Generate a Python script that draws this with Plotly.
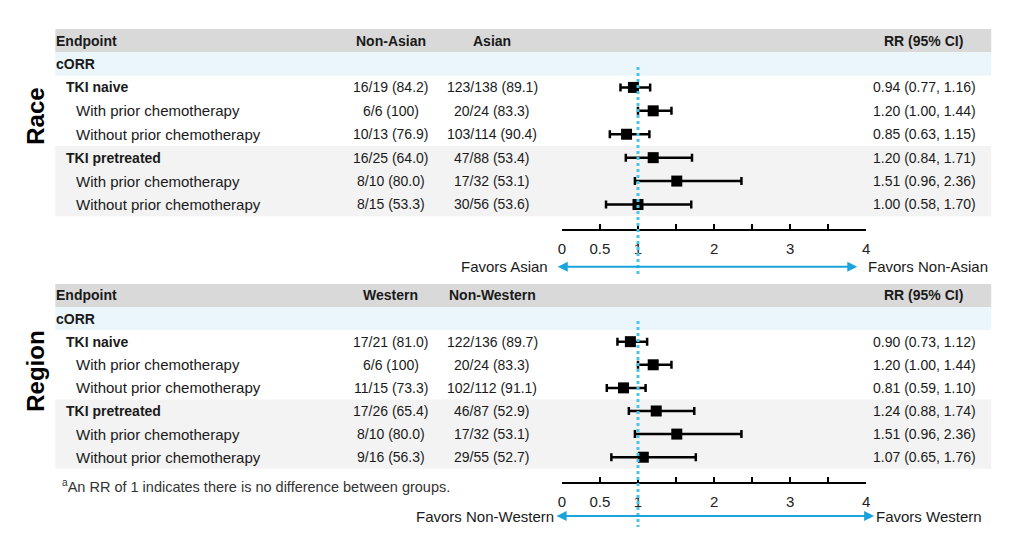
import plotly.graph_objects as go

W, H = 1024, 543
FONT = "Liberation Sans, Arial, sans-serif"

# table rows (same for both panels)
row_labels = ["TKI naive", "With prior chemotherapy", "Without prior chemotherapy",
              "TKI pretreated", "With prior chemotherapy", "Without prior chemotherapy"]
row_bold = [True, False, False, True, False, False]
rows = [0, 1, 2, 3, 4, 5]

# Race panel
race_groups = ["Non-Asian", "Asian"]
race_col1 = ["16/19 (84.2)", "6/6 (100)", "10/13 (76.9)", "16/25 (64.0)", "8/10 (80.0)", "8/15 (53.3)"]
race_col2 = ["123/138 (89.1)", "20/24 (83.3)", "103/114 (90.4)", "47/88 (53.4)", "17/32 (53.1)", "30/56 (53.6)"]
race_rr = [0.94, 1.20, 0.85, 1.20, 1.51, 1.00]
race_lo = [0.77, 1.00, 0.63, 0.84, 0.96, 0.58]
race_hi = [1.16, 1.44, 1.15, 1.71, 2.36, 1.70]

# Region panel
region_groups = ["Western", "Non-Western"]
region_col1 = ["17/21 (81.0)", "6/6 (100)", "11/15 (73.3)", "17/26 (65.4)", "8/10 (80.0)", "9/16 (56.3)"]
region_col2 = ["122/136 (89.7)", "20/24 (83.3)", "102/112 (91.1)", "46/87 (52.9)", "17/32 (53.1)", "29/55 (52.7)"]
region_rr = [0.90, 1.20, 0.81, 1.24, 1.51, 1.07]
region_lo = [0.73, 1.00, 0.59, 0.88, 0.96, 0.65]
region_hi = [1.12, 1.44, 1.10, 1.74, 2.36, 1.76]

x_ticks = [0, 0.5, 1, 2, 3, 4]
x_minor = [1.5, 2.5, 3.5]


def px(x):
    return x / W


def py(y):
    return 1 - y / H


panels = [
    dict(name="Race", groups=race_groups, col1=race_col1, col2=race_col2,
         rr=race_rr, lo=race_lo, hi=race_hi,
         left="Favors Asian", right="Favors Non-Asian",
         top=28.9, axis=229.3, label_y=116, arrow_y=266.7, arrow_l=559, arrow_r=860,
         left_end=548, right_start=871, dot=(67, 276)),
    dict(name="Region", groups=region_groups, col1=region_col1, col2=region_col2,
         rr=region_rr, lo=region_lo, hi=region_hi,
         left="Favors Non-Western", right="Favors Western",
         top=283.9, axis=481.7, label_y=371, arrow_y=516, arrow_l=558, arrow_r=877,
         left_end=554, right_start=879, dot=(321, 527)),
]

fig = go.Figure()
shapes = []
annots = []
layout_axes = {}

for i, p in enumerate(panels):
    sfx = "" if i == 0 else str(i + 1)
    xa, ya = "x" + sfx, "y" + sfx

    err_plus = [h - r for r, h in zip(p["rr"], p["hi"])]
    err_minus = [r - l for r, l in zip(p["rr"], p["lo"])]
    fig.add_trace(go.Scatter(
        x=p["rr"], y=rows, xaxis=xa, yaxis=ya, mode="markers",
        marker=dict(symbol="square", size=11, color="black"),
        error_x=dict(type="data", symmetric=False, array=err_plus, arrayminus=err_minus,
                     color="black", thickness=2.5, width=4),
        cliponaxis=False, showlegend=False, hoverinfo="skip"))

    layout_axes["xaxis" + sfx] = dict(
        domain=[px(562.3), px(869)], range=[0, 4], anchor=ya,
        showline=True, linecolor="black", linewidth=2, showgrid=False, zeroline=False,
        ticks="inside", ticklen=5, tickwidth=2, tickcolor="black",
        tickvals=x_ticks, ticktext=[str(t) for t in x_ticks],
        minor=dict(tickvals=x_minor, ticks="inside", ticklen=5, tickwidth=2, tickcolor="black"),
        tickfont=dict(family=FONT, size=15, color="#222"), ticklabelstandoff=5,
        fixedrange=True)
    layout_axes["yaxis" + sfx] = dict(
        domain=[py(p["axis"]), py(p["top"])], range=[6.06, -2.5], anchor=xa,
        visible=False, fixedrange=True)

    # bands
    band = dict(type="rect", xref="paper", yref=ya, x0=px(51.7), x1=px(995),
                line_width=0, layer="below")
    shapes.append(dict(band, y0=-2.5, y1=-1.5, fillcolor="#d9d9d9"))
    shapes.append(dict(band, y0=-1.5, y1=-0.5, fillcolor="#eaf6fa"))
    shapes.append(dict(band, y0=2.5, y1=5.5, fillcolor="#f3f3f3"))

    # reference line at RR = 1
    shapes.append(dict(type="line", xref=xa, yref="paper", x0=1, x1=1,
                       y0=py(p["dot"][0]), y1=py(p["dot"][1]),
                       line=dict(color="#4cc4e0", width=3, dash="dot"), layer="above"))

    def txt(x, y, s, anchor="left", bold=False, size=15, yref=ya, **kw):
        annots.append(dict(x=x, y=y, xref="paper", yref=yref, text=("<b>%s</b>" % s) if bold else s,
                           showarrow=False, xanchor=anchor, yanchor="middle",
                           font=dict(family=FONT, size=size, color="#1a1a1a"), **kw))

    # header row
    txt(px(50.7), -2, "Endpoint", bold=True, size=14)
    txt(px(390), -2, p["groups"][0], anchor="center", bold=True, size=14)
    txt(px(492), -2, p["groups"][1], anchor="center", bold=True, size=14)
    txt(px(927), -2, "RR (95% CI)", anchor="center", bold=True, size=14)
    txt(px(50.7), -1, "cORR", bold=True, size=14)

    for r, lab, b, c1, c2, rr, lo, hi in zip(rows, row_labels, row_bold, p["col1"], p["col2"],
                                             p["rr"], p["lo"], p["hi"]):
        if b:
            txt(px(60.7), r, lab, bold=True, size=14)
        else:
            txt(px(70.7), r, lab, size=15)
        txt(px(390), r, c1, anchor="center", size=14)
        txt(px(492), r, c2, anchor="center", size=14)
        txt(px(982), r, "%.2f (%.2f, %.2f)" % (rr, lo, hi), anchor="right", size=14)

    # side label
    annots.append(dict(x=px(31), y=py(p["label_y"]), xref="paper", yref="paper", text="<b>%s</b>" % p["name"],
                       showarrow=False, textangle=-90, xanchor="center", yanchor="middle",
                       font=dict(family=FONT, size=24, color="black")))

    # favors arrow
    annots.append(dict(x=px(p["arrow_r"]), y=py(p["arrow_y"]), ax=-(p["arrow_r"] - p["arrow_l"]), ay=0,
                       xref="paper", yref="paper", axref="pixel", ayref="pixel", text="",
                       showarrow=True, arrowhead=2, startarrowhead=2, arrowside="end+start",
                       arrowsize=1, startarrowsize=1, arrowwidth=2, arrowcolor="#1ba3dc", standoff=0,
                       startstandoff=0))
    txt(px(p["left_end"] + 2), py(p["arrow_y"]), p["left"], anchor="right", size=15, yref="paper")
    txt(px(p["right_start"] - 2), py(p["arrow_y"]), p["right"], anchor="left", size=15, yref="paper")

# footnote
annots.append(dict(x=px(56), y=py(486), xref="paper", yref="paper",
                   text="<sup>a</sup>An RR of 1 indicates there is no difference between groups.",
                   showarrow=False, xanchor="left", yanchor="middle",
                   font=dict(family=FONT, size=14.5, color="#333")))

fig.update_layout(
    width=W, height=H, margin=dict(l=0, r=0, t=0, b=0),
    paper_bgcolor="white", plot_bgcolor="white", showlegend=False,
    shapes=shapes, annotations=annots, **layout_axes)

# drop the default page margin so the figure sits at the window's top-left corner
fig.write_html("out.html", config={"displayModeBar": False},
               post_script="document.body.style.margin='0px';")
